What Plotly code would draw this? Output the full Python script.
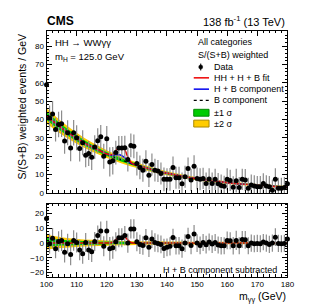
import plotly.graph_objects as go
import numpy as np

# ---------------- data ----------------
mass = list(range(100, 181))
data_upper = [59.0, 40.9, 43.1, 34.6, 37.3, 37.7, 28.3, 32.8, 24.5, 32.8,
              30.1, 24.2, 27.4, 20.5, 21.5, 19.5, 25.0, 28.5, 30.6, 20.0,
              29.5, 16.9, 17.5, 22.0, 24.5, 24.5, 24.7, 18.2, 25.9, 25.4,
              16.0, 13.9, 12.4, 17.3, 9.7, 15.5, 12.4, 11.9, 10.6, 7.4,
              7.4, 7.4, 13.9, 8.3, 8.3, 5.0, 8.8, 13.3, 7.0, 14.6,
              7.9, 7.4, 7.9, 5.2, 7.6, 5.2, 7.4, 5.0, 4.1, 3.6,
              7.5, 6.8, 3.1, 6.7, 2.9, 7.4, 7.0, 2.5, 4.3, 3.8,
              3.4, 3.4, 5.2, 3.8, 3.4, 1.4, 7.4, 2.5, 2.5, 2.9, 5.0]
data_lower = [16.7, -0.4, 3.3, -3.8, 1.1, 1.8, -6.2, -0.4, -7.8, 1.8,
              0.4, -4.7, -7.3, 0.4, -4.7, -5.8, 1.1, 5.1, 8.2, -2.2,
              8.2, -3.8, -3.1, 0.9, 3.6, 3.6, 5.1, 0.0, 9.6, 9.6,
              0.9, -0.9, -1.6, 3.6, -2.9, 2.7, 0.4, -0.2, -0.9, -3.6,
              -2.9, -2.2, 3.8, -1.8, -1.8, -3.8, 0.0, 4.4, -1.6, 6.2,
              0.0, -1.6, 0.4, -1.1, 0.7, -0.7, 0.4, -1.3, -1.8, -1.8,
              1.8, 1.6, -1.8, 1.8, -1.8, 2.4, 2.2, -1.8, 0.0, -0.4,
              -0.2, -0.4, 0.7, 0.0, -0.9, 0.0, 4.0, -0.2, -0.4, -0.2, 2.7]
data_err = [7.5, 6.8, 7.0, 6.5, 7.0, 7.2, 7.0, 6.8, 7.2, 7.0,
            6.8, 7.0, 6.8, 6.5, 6.8, 7.0, 6.5, 6.8, 6.5, 6.8,
            7.0, 8.0, 7.5, 6.5, 6.5, 6.5, 6.5, 6.5, 6.5, 6.5,
            6.5, 6.5, 6.3, 6.0, 6.5, 6.0, 6.2, 6.0, 6.0, 6.5,
            6.0, 6.2, 6.0, 6.0, 6.0, 6.2, 6.0, 6.0, 6.0, 6.0,
            6.0, 6.0, 5.8, 6.0, 5.8, 6.0, 5.8, 5.8, 6.0, 5.8,
            6.0, 5.8, 6.0, 6.5, 5.8, 5.8, 6.0, 5.8, 5.8, 5.8,
            5.8, 5.8, 5.5, 5.8, 5.8, 5.8, 6.0, 5.8, 5.8, 5.8, 5.8]

fit_mass = [100, 105, 110, 115, 118, 120, 121, 122, 123, 124, 125, 126, 127, 128,
            129, 130, 132, 135, 140, 145, 150, 155, 160, 165, 170, 175, 180]
b_comp = [42.0, 35.4, 29.8, 25.1, 22.8, 21.2, 20.5, 19.8, 19.1, 18.5, 17.9, 17.3, 16.7, 16.1,
          15.6, 15.1, 14.1, 12.7, 10.7, 9.1, 7.7, 6.6, 5.6, 4.8, 4.2, 3.6, 3.2]
hb_comp = [42.0, 35.4, 29.8, 25.1, 22.8, 21.2, 20.7, 20.5, 20.7, 20.8, 20.3, 19.1, 17.5, 16.3,
           15.6, 15.1, 14.1, 12.7, 10.7, 9.1, 7.7, 6.6, 5.6, 4.8, 4.2, 3.6, 3.2]
hhhb_fit = [42.0, 35.4, 29.8, 25.1, 22.8, 21.2, 20.8, 21.0, 23.1, 24.7, 24.6, 23.3, 19.7, 16.7,
            15.6, 15.1, 14.1, 12.7, 10.7, 9.1, 7.7, 6.6, 5.6, 4.8, 4.2, 3.6, 3.2]
hh_sub = [0.0, 0.0, 0.0, 0.0, 0.0, 0.0, 0.1, 0.6, 2.3, 3.9, 4.3, 4.0, 2.2, 0.4,
          0.0, 0.0, 0.0, 0.0, 0.0, 0.0, 0.0, 0.0, 0.0, 0.0, 0.0, 0.0, 0.0]

band_mass = [100, 105, 110, 115, 120, 125, 130, 135, 140, 150, 160, 170, 180]
band_center_up = [42.0, 35.4, 29.8, 25.1, 21.2, 17.9, 15.1, 12.7, 10.7, 7.7, 5.6, 4.2, 3.2]
band1_up = [2.2, 1.9, 1.6, 1.3, 1.1, 0.95, 0.8, 0.7, 0.6, 0.5, 0.4, 0.35, 0.3]
band2_up = [4.2, 3.6, 3.0, 2.5, 2.1, 1.8, 1.5, 1.3, 1.1, 0.9, 0.75, 0.65, 0.6]
band_center_lo = [0.6, 0.3, 0.1, 0.0, 0.0, 0.0, 0.0, 0.0, 0.0, 0.0, 0.0, 0.0, 0.0]
band1_lo = [3.0, 2.0, 1.5, 1.2, 1.0, 0.85, 0.7, 0.65, 0.6, 0.5, 0.45, 0.42, 0.4]
band2_lo = [5.0, 3.6, 2.7, 2.2, 1.8, 1.5, 1.3, 1.2, 1.1, 0.95, 0.85, 0.8, 0.75]

x_ticks = [100, 110, 120, 130, 140, 150, 160, 170, 180]

# ---------------- figure ----------------
W, H = 317, 306
FONT = "Liberation Sans, Arial, Helvetica, sans-serif"
GREEN = "#00cc00"
YELLOW = "#ffcc00"


def px(x):
    return x / W


def py(y):
    return 1 - y / H


fig = go.Figure()


def add_band(xa, ya, center, w2, w1):
    c = np.array(center)
    for w, col in ((np.array(w2), YELLOW), (np.array(w1), GREEN)):
        fig.add_trace(go.Scatter(x=band_mass, y=c - w, mode="lines", line=dict(width=0, shape="spline", color=col),
                                 xaxis=xa, yaxis=ya, showlegend=False, hoverinfo="skip"))
        fig.add_trace(go.Scatter(x=band_mass, y=c + w, mode="lines", line=dict(width=0, shape="spline", color=col),
                                 fill="tonexty", fillcolor=col, xaxis=xa, yaxis=ya, showlegend=False,
                                 hoverinfo="skip"))


# upper panel
add_band("x", "y", band_center_up, band2_up, band1_up)
fig.add_trace(go.Scatter(x=fit_mass, y=b_comp, mode="lines",
                         line=dict(color="black", width=1.2, dash="dot", shape="spline"),
                         xaxis="x", yaxis="y", showlegend=False))
fig.add_trace(go.Scatter(x=fit_mass, y=hb_comp, mode="lines",
                         line=dict(color="#0000ee", width=1.5, shape="spline"),
                         xaxis="x", yaxis="y", showlegend=False))
fig.add_trace(go.Scatter(x=fit_mass, y=hhhb_fit, mode="lines",
                         line=dict(color="#ee0000", width=1.5, shape="spline"),
                         xaxis="x", yaxis="y", showlegend=False))
fig.add_trace(go.Scatter(x=mass, y=data_upper, mode="markers",
                         marker=dict(color="black", size=5),
                         error_y=dict(type="data", array=data_err, color="#8c8c8c", thickness=1.2, width=0),
                         xaxis="x", yaxis="y", showlegend=False, cliponaxis=False))

# lower panel
add_band("x2", "y2", band_center_lo, band2_lo, band1_lo)
fig.add_trace(go.Scatter(x=fit_mass, y=hh_sub, mode="lines",
                         line=dict(color="#ee0000", width=1.5, shape="spline"),
                         xaxis="x2", yaxis="y2", showlegend=False))
fig.add_trace(go.Scatter(x=mass, y=data_lower, mode="markers",
                         marker=dict(color="black", size=5),
                         error_y=dict(type="data", array=data_err, color="#8c8c8c", thickness=1.2, width=0),
                         xaxis="x2", yaxis="y2", showlegend=False, cliponaxis=False))

axis_common = dict(showline=True, linecolor="black", linewidth=1, mirror="allticks",
                   ticks="inside", ticklen=5, tickcolor="black", showgrid=False, zeroline=False,
                   tickfont=dict(family=FONT, size=8, color="black"))

xdom = [px(33), px(285)]
fig.update_layout(
    width=W, height=H, margin=dict(l=0, r=0, t=0, b=0),
    paper_bgcolor="white", plot_bgcolor="white", showlegend=False,
    xaxis=dict(domain=xdom, range=[100, 180], anchor="y", showticklabels=False,
               tickvals=x_ticks, minor=dict(dtick=2, ticklen=2.5, ticks="inside", tickcolor="black"),
               **axis_common),
    yaxis=dict(domain=[py(188), py(23)], range=[0, 88.5], anchor="x", dtick=10, tick0=0,
               minor=dict(dtick=2, ticklen=2.5, ticks="inside", tickcolor="black"), **axis_common),
    xaxis2=dict(domain=xdom, range=[100, 180], anchor="y2", tickvals=x_ticks,
                minor=dict(dtick=2, ticklen=2.5, ticks="inside", tickcolor="black"), **axis_common),
    yaxis2=dict(domain=[py(273), py(199)], range=[-22.7, 26.7], anchor="x2",
                tickvals=[-20, -10, 0, 10, 20],
                minor=dict(dtick=2, tick0=0, ticklen=2.5, ticks="inside", tickcolor="black"), **axis_common),
)

ann = []


def text(x, y, s, size=9.0, xanchor="left", yanchor="middle", angle=0):
    ann.append(dict(x=px(x), y=py(y), xref="paper", yref="paper", text=s, showarrow=False,
                    xanchor=xanchor, yanchor=yanchor, textangle=angle,
                    font=dict(family=FONT, size=size, color="black")))


text(31, 13.5, "<b>CMS</b>", size=12)
text(285, 13.5, "138 fb<sup>-1</sup> (13 TeV)", size=11, xanchor="right")
text(40, 35, "HH → WWγγ", size=9.5)
text(40, 50, "m<sub>H</sub> = 125.0 GeV", size=9.5)
text(189, 35, "All categories")
text(189, 48, "S/(S+B) weighted")
text(206, 60, "Data")
text(206, 71, "HH + H + B fit")
text(206, 82.5, "H + B component")
text(206, 94, "B component")
text(206, 106.5, "±1 σ")
text(206, 117.5, "±2 σ")
text(276, 266.5, "H + B component subtracted")
ann[-1]["xanchor"] = "right"
text(286, 294, "m<sub>γγ</sub> (GeV)", size=10.5, xanchor="right")
text(7.5, 100, "S/(S+B) weighted events / GeV", size=10.5, xanchor="center", angle=-90)
fig.update_layout(annotations=ann)

shapes = []
shapes.append(dict(type="line", xref="paper", yref="paper", x0=px(194.3), x1=px(194.3), y0=py(56.5), y1=py(63.5),
                   line=dict(color="black", width=1)))
shapes.append(dict(type="circle", xref="paper", yref="paper", x0=px(192.2), x1=px(196.4), y0=py(57.9), y1=py(62.1),
                   fillcolor="black", line=dict(color="black", width=0.5)))
shapes.append(dict(type="line", xref="paper", yref="paper", x0=px(187), x1=px(203), y0=py(71), y1=py(71),
                   line=dict(color="#ee0000", width=1.5)))
shapes.append(dict(type="line", xref="paper", yref="paper", x0=px(187), x1=px(203), y0=py(82.5), y1=py(82.5),
                   line=dict(color="#0000ee", width=1.5)))
shapes.append(dict(type="line", xref="paper", yref="paper", x0=px(187), x1=px(203), y0=py(94), y1=py(94),
                   line=dict(color="black", width=1.2, dash="dot")))
shapes.append(dict(type="rect", xref="paper", yref="paper", x0=px(187), x1=px(203), y0=py(110), y1=py(103),
                   fillcolor=GREEN, line=dict(color="#008800", width=1)))
shapes.append(dict(type="rect", xref="paper", yref="paper", x0=px(187), x1=px(203), y0=py(121), y1=py(114),
                   fillcolor=YELLOW, line=dict(color="#aa8800", width=1)))
fig.update_layout(shapes=shapes)

fig.write_html("out.html")
